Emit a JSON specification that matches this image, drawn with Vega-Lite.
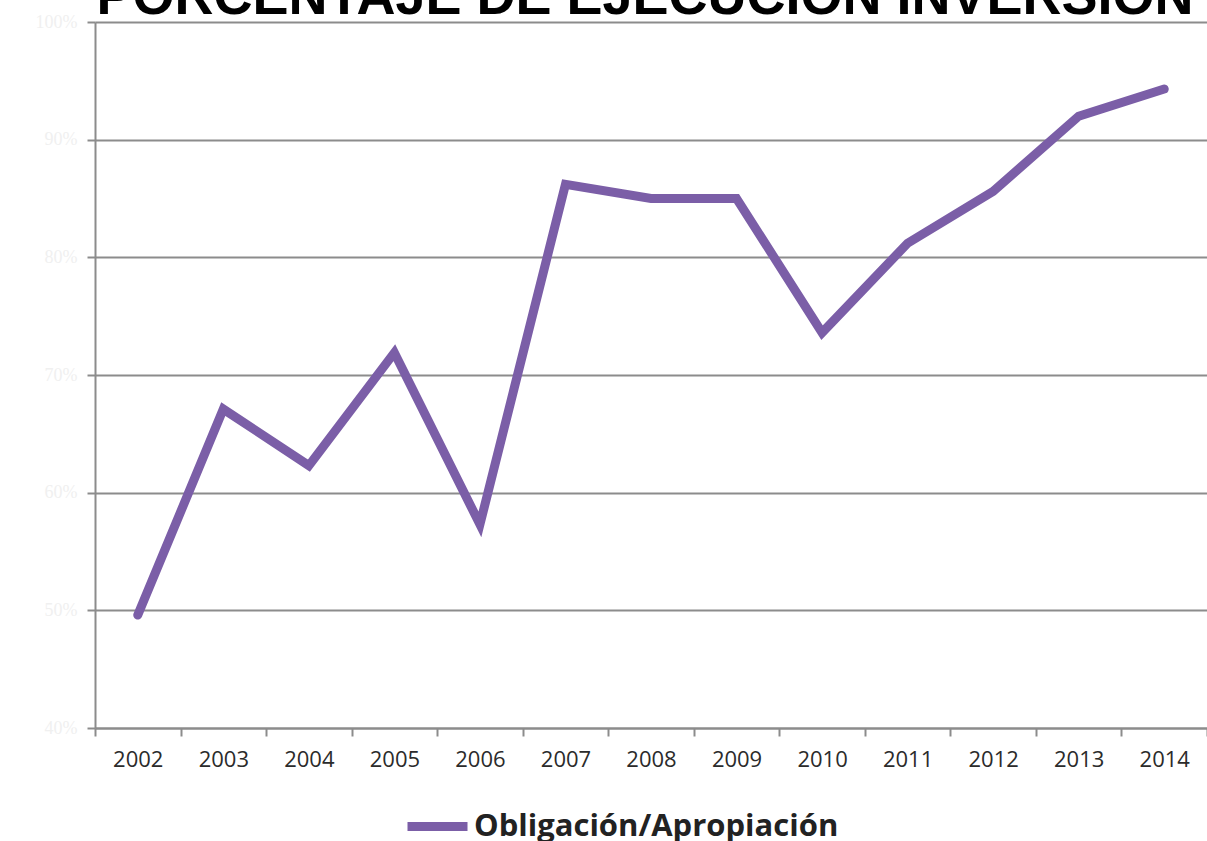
{
  "$schema": "https://vega.github.io/schema/vega-lite/v6.json",
  "autosize": "none",
  "padding": {"left": 95, "top": 22, "right": 0, "bottom": 113},
  "width": 1112,
  "height": 706,
  "background": "white",
  "title": {
    "text": "PORCENTAJE DE EJECUCIÓN INVERSIÓN",
    "frame": "group",
    "anchor": "middle",
    "orient": "top",
    "baseline": "alphabetic",
    "offset": -55,
    "dx": -6,
    "font": "Liberation Sans",
    "fontWeight": 900,
    "fontSize": 54,
    "color": "#000000"
  },
  "data": {
    "values": [
      {"anio": "2002", "valor": 0.496, "serie": "Obligación/Apropiación"},
      {"anio": "2003", "valor": 0.671, "serie": "Obligación/Apropiación"},
      {"anio": "2004", "valor": 0.623, "serie": "Obligación/Apropiación"},
      {"anio": "2005", "valor": 0.719, "serie": "Obligación/Apropiación"},
      {"anio": "2006", "valor": 0.573, "serie": "Obligación/Apropiación"},
      {"anio": "2007", "valor": 0.862, "serie": "Obligación/Apropiación"},
      {"anio": "2008", "valor": 0.850, "serie": "Obligación/Apropiación"},
      {"anio": "2009", "valor": 0.850, "serie": "Obligación/Apropiación"},
      {"anio": "2010", "valor": 0.736, "serie": "Obligación/Apropiación"},
      {"anio": "2011", "valor": 0.812, "serie": "Obligación/Apropiación"},
      {"anio": "2012", "valor": 0.856, "serie": "Obligación/Apropiación"},
      {"anio": "2013", "valor": 0.920, "serie": "Obligación/Apropiación"},
      {"anio": "2014", "valor": 0.943, "serie": "Obligación/Apropiación"}
    ]
  },
  "mark": {"type": "line", "strokeWidth": 9, "strokeCap": "round", "strokeJoin": "miter"},
  "encoding": {
    "x": {
      "field": "anio",
      "type": "ordinal",
      "scale": {"type": "band", "paddingInner": 0, "paddingOuter": 0},
      "axis": {
        "title": null,
        "labelAngle": 0,
        "labelFont": "Open Sans",
        "labelFontSize": 22,
        "labelColor": "#2b2b2b",
        "labelPadding": 13,
        "tickBand": "extent",
        "tickSize": 8,
        "tickColor": "#8c8c8c",
        "tickWidth": 2,
        "domainColor": "#8c8c8c",
        "domainWidth": 2,
        "grid": false
      }
    },
    "y": {
      "field": "valor",
      "type": "quantitative",
      "scale": {"domain": [0.4, 1.0], "nice": false, "zero": false},
      "axis": {
        "title": null,
        "values": [0.4, 0.5, 0.6, 0.7, 0.8, 0.9, 1.0],
        "format": ".0%",
        "labelFont": "Liberation Serif",
        "labelFontSize": 18,
        "labelColor": "#f0f0f0",
        "labelPadding": 10,
        "tickSize": 8,
        "tickColor": "#8c8c8c",
        "tickWidth": 2,
        "domainColor": "#8c8c8c",
        "domainWidth": 2,
        "grid": true,
        "gridColor": "#8c8c8c",
        "gridWidth": 2
      }
    },
    "color": {
      "field": "serie",
      "type": "nominal",
      "scale": {"range": ["#7b5ea7"]},
      "legend": {
        "title": null,
        "orient": "none",
        "legendX": 308,
        "legendY": 770,
        "padding": 0,
        "symbolType": "stroke",
        "symbolSize": 3600,
        "symbolStrokeWidth": 9,
        "labelFont": "Open Sans",
        "labelFontSize": 31,
        "labelFontWeight": "bold",
        "labelColor": "#222222",
        "labelOffset": 2,
        "labelLimit": 0
      }
    }
  },
  "config": {"view": {"stroke": null}}
}
